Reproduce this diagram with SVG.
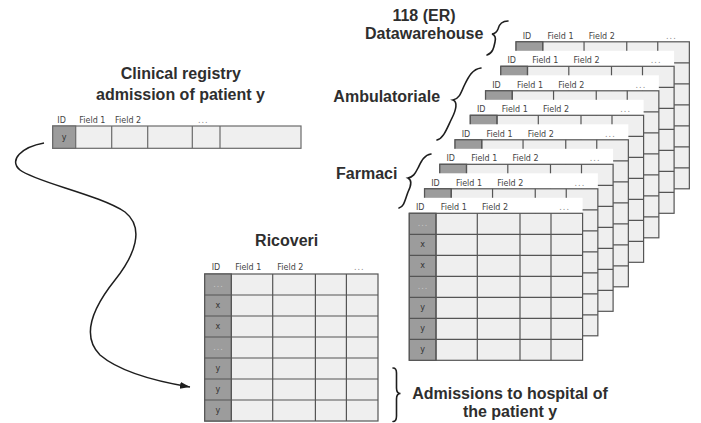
<svg xmlns="http://www.w3.org/2000/svg" xmlns:xlink="http://www.w3.org/1999/xlink" width="701" height="423" viewBox="0 0 701 423">
<style>
.title{font-family:"Liberation Sans",Arial,sans-serif;font-weight:bold;font-size:16px;fill:#2e2e2e;text-anchor:middle}
.ht{font-family:"DejaVu Sans",sans-serif;font-size:8px;fill:#444}
.dots{font-family:"DejaVu Sans",sans-serif;font-size:8px;fill:#888;letter-spacing:1px}
.ct{font-family:"DejaVu Sans",sans-serif;font-size:8px;fill:#333;text-anchor:middle}
.cd{font-family:"DejaVu Sans",sans-serif;font-size:8px;fill:#c8c8c8;text-anchor:middle;letter-spacing:1px}
.body{fill:#efefef;stroke:#555;stroke-width:1.2}
.idc{fill:#9c9c9c;stroke:#555;stroke-width:1.2}
.grid{fill:none;stroke:#555;stroke-width:1.2}
.strip{fill:#fff}
.brace{fill:none;stroke:#1e1e1e;stroke-width:1.6;stroke-linecap:round}
.conn{fill:none;stroke:#1e1e1e;stroke-width:1.5}
</style>
<defs>
<g id="tbody">
<rect class="body" x="0" y="0" width="173.3" height="147"/>
<rect class="idc" x="0" y="0" width="26.7" height="147"/>
<path class="grid" d="M26.7,0V147M68,0V147M110.7,0V147M141.7,0V147M0,21H173.3M0,42H173.3M0,63H173.3M0,84H173.3M0,105H173.3M0,126H173.3"/>
</g>
<marker id="arr" markerUnits="userSpaceOnUse" markerWidth="12" markerHeight="9" refX="10" refY="3.5" orient="auto">
<path d="M0,0L10,3.5L0,7z" fill="#1e1e1e"/>
</marker>
</defs>
<rect x="0" y="0" width="701" height="423" fill="#fff"/>

<!-- stacked datawarehouse tables, back to front -->
<g id="dw-table-8" transform="translate(516.05,41.8)">
<rect class="strip" x="0" y="-15.5" width="173.3" height="15.5"/>
<text class="ht" x="6.7" y="-3.3">ID</text><text class="ht" x="31.4" y="-3.3">Field 1</text><text class="ht" x="72.7" y="-3.3">Field 2</text><text class="dots" x="150" y="-3.3">...</text>
<use xlink:href="#tbody"/>
</g>
<g id="dw-table-7" transform="translate(500.8,66.3)">
<rect class="strip" x="0" y="-15.5" width="173.3" height="15.5"/>
<text class="ht" x="6.7" y="-3.3">ID</text><text class="ht" x="31.4" y="-3.3">Field 1</text><text class="ht" x="72.7" y="-3.3">Field 2</text><text class="dots" x="150" y="-3.3">...</text>
<use xlink:href="#tbody"/>
</g>
<g id="dw-table-6" transform="translate(485.55,90.8)">
<rect class="strip" x="0" y="-15.5" width="173.3" height="15.5"/>
<text class="ht" x="6.7" y="-3.3">ID</text><text class="ht" x="31.4" y="-3.3">Field 1</text><text class="ht" x="72.7" y="-3.3">Field 2</text><text class="dots" x="150" y="-3.3">...</text>
<use xlink:href="#tbody"/>
</g>
<g id="dw-table-5" transform="translate(470.3,115.3)">
<rect class="strip" x="0" y="-15.5" width="173.3" height="15.5"/>
<text class="ht" x="6.7" y="-3.3">ID</text><text class="ht" x="31.4" y="-3.3">Field 1</text><text class="ht" x="72.7" y="-3.3">Field 2</text><text class="dots" x="150" y="-3.3">...</text>
<use xlink:href="#tbody"/>
</g>
<g id="dw-table-4" transform="translate(455.05,139.8)">
<rect class="strip" x="0" y="-15.5" width="173.3" height="15.5"/>
<text class="ht" x="6.7" y="-3.3">ID</text><text class="ht" x="31.4" y="-3.3">Field 1</text><text class="ht" x="72.7" y="-3.3">Field 2</text><text class="dots" x="150" y="-3.3">...</text>
<use xlink:href="#tbody"/>
</g>
<g id="dw-table-3" transform="translate(439.8,164.3)">
<rect class="strip" x="0" y="-15.5" width="173.3" height="15.5"/>
<text class="ht" x="6.7" y="-3.3">ID</text><text class="ht" x="31.4" y="-3.3">Field 1</text><text class="ht" x="72.7" y="-3.3">Field 2</text><text class="dots" x="150" y="-3.3">...</text>
<use xlink:href="#tbody"/>
</g>
<g id="dw-table-2" transform="translate(424.55,188.8)">
<rect class="strip" x="0" y="-15.5" width="173.3" height="15.5"/>
<text class="ht" x="6.7" y="-3.3">ID</text><text class="ht" x="31.4" y="-3.3">Field 1</text><text class="ht" x="72.7" y="-3.3">Field 2</text><text class="dots" x="150" y="-3.3">...</text>
<use xlink:href="#tbody"/>
</g>
<g id="dw-table-1" transform="translate(409.3,213.3)">
<rect class="strip" x="0" y="-15.5" width="173.3" height="15.5"/>
<text class="ht" x="6.7" y="-3.3">ID</text><text class="ht" x="31.4" y="-3.3">Field 1</text><text class="ht" x="72.7" y="-3.3">Field 2</text><text class="dots" x="150" y="-3.3">...</text>
<use xlink:href="#tbody"/>
<text class="cd" x="13.8" y="13">...</text>
<text class="ct" x="13.3" y="34">x</text>
<text class="ct" x="13.3" y="55">x</text>
<text class="cd" x="13.8" y="76">...</text>
<text class="ct" x="13.3" y="97">y</text>
<text class="ct" x="13.3" y="118">y</text>
<text class="ct" x="13.3" y="139">y</text>
</g>

<!-- Ricoveri table -->
<g id="ricoveri" transform="translate(204.7,274)">
<text class="title" x="82" y="-28.3">Ricoveri</text>
<text class="ht" x="7" y="-4">ID</text><text class="ht" x="30.5" y="-4">Field 1</text><text class="ht" x="72.6" y="-4">Field 2</text><text class="dots" x="149.3" y="-4">...</text>
<use xlink:href="#tbody"/>
<text class="cd" x="13.8" y="13">...</text>
<text class="ct" x="13.3" y="34">x</text>
<text class="ct" x="13.3" y="55">x</text>
<text class="cd" x="13.8" y="76">...</text>
<text class="ct" x="13.3" y="97">y</text>
<text class="ct" x="13.3" y="118">y</text>
<text class="ct" x="13.3" y="139">y</text>
</g>

<!-- Clinical registry row -->
<g id="clinical-registry">
<text class="title" x="180.8" y="79.3">Clinical registry</text>
<text class="title" x="180.5" y="100">admission of patient y</text>
<text class="ht" x="57.3" y="122.5">ID</text><text class="ht" x="79.3" y="122.5">Field 1</text><text class="ht" x="115" y="122.5">Field 2</text><text class="dots" x="198" y="122.5">...</text>
<rect class="body" x="52.7" y="126" width="248.3" height="22.3" style="stroke:#6a6a6a"/>
<rect class="idc" x="52.7" y="126" width="23" height="22.3" style="stroke:#6a6a6a"/>
<path class="grid" style="stroke:#6a6a6a" d="M111.7,126V148.3M147.7,126V148.3M192.3,126V148.3M220,126V148.3"/>
<text class="ct" x="64.2" y="140">y</text>
</g>

<!-- labels -->
<g id="label-datawarehouse">
<text class="title" x="424" y="20.7">118 (ER)</text>
<text class="title" x="424.2" y="39">Datawarehouse</text>
</g>
<g id="label-ambulatoriale">
<text class="title" x="386.7" y="101.7">Ambulatoriale</text>
</g>
<g id="label-farmaci">
<text class="title" x="366.7" y="179.3">Farmaci</text>
</g>
<g id="label-admissions">
<text class="title" x="510" y="399.3">Admissions to hospital of</text>
<text class="title" x="510" y="417">the patient y</text>
</g>

<!-- braces -->
<g id="braces">
<path class="brace" d="M508,21C501,21 499,25 498,29C497,32 495,33.5 492,34C495,35 496,38 495,42C494,47 493,53 487,55"/>
<path class="brace" d="M481,68C472,69 468,78 464,86C461,93 459,99 453,100C458,102 456,110 452,118C447,128 444,138 437,140"/>
<path class="brace" d="M431,154C424,155 421,162 418,168C415,174 413,177 408,178C412,180 411,186 408,192C405,200 404,207 399,208"/>
<path class="brace" d="M393,368Q396.5,368 396.5,373V388Q396.5,393.5 400.5,393.5Q396.5,393.5 396.5,399V416Q396.5,421.5 393,421.5"/>
</g>

<!-- connectors -->
<g id="connectors">
<path class="conn" marker-end="url(#arr)" d="M44,143C22,147 8,160 20,170C35,182 100,195 125,212C145,228 135,255 115,280C95,305 80,335 100,355C120,372 160,382 190,387"/>
</g>
</svg>
